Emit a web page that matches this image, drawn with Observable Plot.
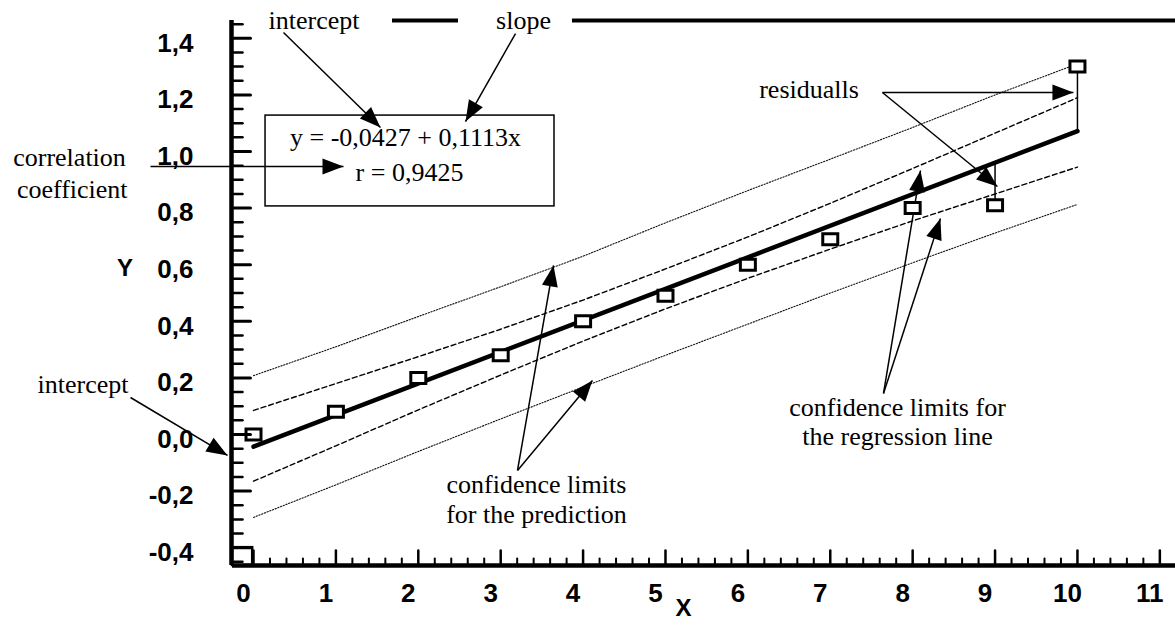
<!DOCTYPE html>
<html><head><meta charset="utf-8">
<script src="https://cdn.jsdelivr.net/npm/d3@7"></script>
<script src="https://cdn.jsdelivr.net/npm/@observablehq/plot@0.6"></script>
<style>html,body{margin:0;padding:0;background:#fff;} #chart svg{display:block;}</style>
</head><body><div id="chart"></div>
<script>
// ---- data ----
const xs = [0, 1, 2, 3, 4, 5, 6, 7, 8, 9, 10];
const ys = [0.00, 0.08, 0.20, 0.28, 0.40, 0.49, 0.60, 0.69, 0.80, 0.81, 1.30];
const regX = [0, 10];
const regY = [-0.043, 1.072];
const confUpper = [0.085, 0.180, 0.275, 0.372, 0.475, 0.585, 0.698, 0.817, 0.940, 1.065, 1.190];
const confLower = [-0.165, -0.040, 0.087, 0.210, 0.330, 0.444, 0.552, 0.655, 0.755, 0.850, 0.945];
const predUpper = [0.208, 0.310, 0.417, 0.522, 0.630, 0.748, 0.862, 0.973, 1.085, 1.200, 1.310];
const predLower = [-0.293, -0.178, -0.060, 0.055, 0.168, 0.280, 0.390, 0.500, 0.607, 0.712, 0.813];
const residX = [9, 10];
const residFrom = [0.81, 1.30];
const residTo = [0.96, 1.074];

const xTickValues = [0, 1, 2, 3, 4, 5, 6, 7, 8, 9, 10, 11];
const yTickValues = [-0.4, -0.2, 0, 0.2, 0.4, 0.6, 0.8, 1.0, 1.2, 1.4];
const xMinor = d3.range(1, 56).filter(i => i % 5 !== 0).map(i => i / 5);
const yMinor = d3.range(-45, 146, 5).filter(i => i % 20 !== 0).map(i => i / 100);

const X_DOMAIN = [-0.255, 11.19];
const Y_DOMAIN = [-0.463, 1.463];

// annotations (data units)
const arrowLines = [
  {x1: 0.364, y1: 1.4205, x2: 1.541, y2: 1.0848},   // intercept (top)
  {x1: 3.180, y1: 1.417, x2: 2.573, y2: 1.106},     // slope
  {x1: -1.25, y1: 0.947, x2: 1.092, y2: 0.947},     // correlation coefficient
  {x1: -1.493, y1: 0.1307, x2: -0.3155, y2: -0.0742}, // intercept (left)
  {x1: 7.633, y1: 1.2085, x2: 9.951, y2: 1.2085},   // residualls 1
  {x1: 7.633, y1: 1.2085, x2: 9.029, y2: 0.8763},   // residualls 2
  {x1: 3.204, y1: -0.1272, x2: 3.641, y2: 0.5972},  // prediction 1
  {x1: 3.204, y1: -0.1272, x2: 4.114, y2: 0.1908},  // prediction 2
  {x1: 7.646, y1: 0.1449, x2: 8.095, y2: 0.9329},   // regression 1
  {x1: 7.646, y1: 0.1449, x2: 8.337, y2: 0.7633}    // regression 2
];
const labelsMiddle = [
  {x: 3.277, y: 1.4346, text: "slope"},
  {x: 1.845, y: 1.021, text: "y = -0,0427 + 0,1113x"},
  {x: 1.893, y: 0.8975, text: "r = 0,9425"},
  {x: -2.233, y: 0.9505, text: "correlation"},
  {x: -2.200, y: 0.834, text: "coefficient"},
  {x: -2.069, y: 0.1449, text: "intercept"},
  {x: 6.742, y: 1.1908, text: "residualls"},
  {x: 3.434, y: -0.2085, text: "confidence limits"},
  {x: 3.434, y: -0.3145, text: "for the prediction"},
  {x: 7.816, y: 0.0636, text: "confidence limits for"},
  {x: 7.816, y: -0.0389, text: "the regression line"}
];
const labelsStart = [{x: 0.182, y: 1.4346, text: "intercept"}];
const topSegments = [{x1: 1.687, x2: 2.488}, {x1: 3.871, x2: 11.19}];
const eqBox = [{x1: 0.146, x2: 3.653, y1: 0.806, y2: 1.127}];
const cornerBox = [{x1: -0.255, x2: -0.01, y1: -0.463, y2: -0.40}];
const axisTitles = [{x: 5.218, y: -0.615, text: "X"}, {x: -1.56, y: 0.587, text: "Y"}];

// ---- build ----
const sx = d3.scaleLinear(X_DOMAIN, [232, 1175]);
const sy = d3.scaleLinear(Y_DOMAIN, [565, 20]);
const angle = d => {
  const dx = sx(d.x2) - sx(d.x1), dy = sy(d.y2) - sy(d.y1);
  return Math.atan2(dx, -dy) * 180 / Math.PI;
};

const pts = xs.map((x, i) => ({x, y: ys[i]}));
const reg = regX.map((x, i) => ({x, y: regY[i]}));
const band = (arr) => xs.map((x, i) => ({x, y: arr[i]}));
const resid = residX.map((x, i) => ({x, y1: residFrom[i], y2: residTo[i]}));

const squareSymbol = {draw(ctx) { ctx.rect(-7.5, -5.5, 15, 11); }};
const tickShape = {draw(ctx, l) { ctx.moveTo(0, 0); ctx.lineTo(0, -l); }};

const serif = "'Liberation Serif', 'Times New Roman', serif";
const sans = "'Liberation Sans', Arial, sans-serif";

const chart = Plot.plot({
  width: 1175, height: 630,
  marginLeft: 232, marginRight: 0, marginTop: 20, marginBottom: 65,
  x: {domain: X_DOMAIN},
  y: {domain: Y_DOMAIN},
  style: {background: "#fff", color: "#000", overflow: "visible"},
  marks: [
    Plot.line(band(predUpper), {x: "x", y: "y", stroke: "#111", strokeWidth: 1.1, strokeDasharray: "1.3,1.6"}),
    Plot.line(band(predLower), {x: "x", y: "y", stroke: "#111", strokeWidth: 1.1, strokeDasharray: "1.3,1.6"}),
    Plot.line(band(confUpper), {x: "x", y: "y", stroke: "#000", strokeWidth: 1.4, strokeDasharray: "5,3"}),
    Plot.line(band(confLower), {x: "x", y: "y", stroke: "#000", strokeWidth: 1.4, strokeDasharray: "5,3"}),
    Plot.line(reg, {x: "x", y: "y", stroke: "#000", strokeWidth: 4.5}),
    Plot.ruleX(resid, {x: "x", y1: "y1", y2: "y2", stroke: "#000", strokeWidth: 1.5}),
    Plot.rect(eqBox, {x1: "x1", x2: "x2", y1: "y1", y2: "y2", fill: "none", stroke: "#000", strokeWidth: 1.5}),
    Plot.rect(cornerBox, {x1: "x1", x2: "x2", y1: "y1", y2: "y2", fill: "none", stroke: "#000", strokeWidth: 2.5}),
    Plot.ruleY(topSegments, {y: Y_DOMAIN[1], x1: "x1", x2: "x2", stroke: "#000", strokeWidth: 4}),
    Plot.link(arrowLines, {x1: "x1", y1: "y1", x2: "x2", y2: "y2", stroke: "#000", strokeWidth: 1.5}),
    Plot.vector(arrowLines, {x: "x2", y: "y2", rotate: angle, length: 21, r: 8, shape: "spike", anchor: "end", fill: "#000", stroke: "none"}),
    Plot.dot(pts, {x: "x", y: "y", symbol: squareSymbol, fill: "#fff", stroke: "#000", strokeWidth: 3}),
    // axis lines
    Plot.ruleX([X_DOMAIN[0]], {stroke: "#000", strokeWidth: 4.5, dx: -1}),
    Plot.ruleY([Y_DOMAIN[0]], {stroke: "#000", strokeWidth: 4.5}),
    // ticks (inward)
    Plot.vector(xTickValues, {x: d => d, y: Y_DOMAIN[0], length: 15, rotate: 0, anchor: "start", shape: tickShape, stroke: "#000", strokeWidth: 2.5}),
    Plot.vector(xMinor, {x: d => d, y: Y_DOMAIN[0], length: 7, rotate: 0, anchor: "start", shape: tickShape, stroke: "#000", strokeWidth: 2}),
    Plot.vector(yTickValues, {x: X_DOMAIN[0], y: d => d, length: 18, rotate: 90, anchor: "start", shape: tickShape, stroke: "#000", strokeWidth: 3}),
    Plot.vector(yMinor, {x: X_DOMAIN[0], y: d => d, length: 10, rotate: 90, anchor: "start", shape: tickShape, stroke: "#000", strokeWidth: 2.5}),
    // tick labels
    Plot.axisX(xTickValues, {anchor: "bottom", tickSize: 0, tickPadding: 18, dx: -10, tickFormat: d => String(d),
      fontSize: 26, fontWeight: "bold", fontFamily: sans, label: null}),
    Plot.axisY(yTickValues, {anchor: "left", tickSize: 0, tickPadding: 39, dy: 5, tickFormat: d => d.toFixed(1).replace(".", ","),
      fontSize: 26, fontWeight: "bold", fontFamily: sans, label: null}),
    Plot.text(axisTitles, {x: "x", y: "y", text: "text", fontSize: 24, fontWeight: "bold", fontFamily: sans, lineAnchor: "middle"}),
    // annotations
    Plot.text(labelsMiddle, {x: "x", y: "y", text: "text", textAnchor: "middle", lineAnchor: "bottom", fontSize: 26, fontFamily: serif}),
    Plot.text(labelsStart, {x: "x", y: "y", text: "text", textAnchor: "start", lineAnchor: "bottom", fontSize: 26, fontFamily: serif})
  ]
});
document.getElementById("chart").appendChild(chart);
</script></body></html>
